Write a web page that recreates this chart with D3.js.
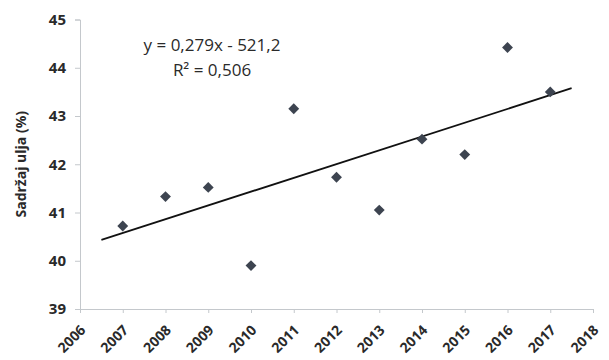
<!DOCTYPE html>
<html>
<head>
<meta charset="utf-8">
<script src="https://cdn.jsdelivr.net/npm/d3@7"></script>
<style>
  body { margin: 0; background: #fff; }
  text { font-family: "Open Sans", "DejaVu Sans", sans-serif; fill: #2a2a2a; }
</style>
</head>
<body>
<div id="chart"></div>
<script>
// data
var years  = [2007, 2008, 2009, 2010, 2011, 2012, 2013, 2014, 2015, 2016, 2017];
var oil    = [40.72, 41.33, 41.52, 39.9, 43.15, 41.73, 41.05, 42.52, 42.2, 44.42, 43.5];
var xTicks = [2006, 2007, 2008, 2009, 2010, 2011, 2012, 2013, 2014, 2015, 2016, 2017, 2018];
var yTicks = [39, 40, 41, 42, 43, 44, 45];
var eqLines = ["y = 0,279x - 521,2", "R\u00B2 = 0,506"];
var yTitle = "Sadržaj ulja (%)";

var width = 609, height = 360;
var margin = {top: 19.5, right: 16, bottom: 51, left: 80};

var svg = d3.select('#chart')
    .append('svg')
    .attr('width', width)
    .attr('height', height);

var x = d3.scaleLinear().domain([2006, 2018]).range([margin.left, width - margin.right]);
var y = d3.scaleLinear().domain([39, 45]).range([height - margin.bottom, margin.top]);

// y axis
var yAxis = svg.append('g')
    .attr('transform', 'translate(' + margin.left + ',0)')
    .call(d3.axisLeft(y).tickValues(yTicks).tickSize(5).tickPadding(9).tickFormat(d3.format('d')));
yAxis.select('.domain').attr('stroke', '#c4c8cc');
yAxis.selectAll('.tick line').attr('stroke', '#c4c8cc');
yAxis.selectAll('.tick text')
    .style('font-size', '15px').style('font-weight', 'bold');

// x axis, labels slanted
var xAxis = svg.append('g')
    .attr('transform', 'translate(0,' + (height - margin.bottom) + ')')
    .call(d3.axisBottom(x).tickValues(xTicks).tickSize(4).tickFormat(d3.format('d')));
xAxis.select('.domain').attr('stroke', '#c4c8cc');
xAxis.selectAll('.tick line').attr('stroke', '#c4c8cc');
xAxis.selectAll('.tick text')
    .style('font-size', '14px').style('font-weight', 'bold')
    .attr('text-anchor', 'end')
    .attr('x', 0).attr('y', 0).attr('dy', null)
    .attr('transform', 'translate(6,22) rotate(-45)');

// y title
svg.append('text')
    .attr('transform', 'translate(26,' + ((margin.top + height - margin.bottom) / 2) + ') rotate(-90)')
    .attr('text-anchor', 'middle')
    .style('font-size', '14px').style('font-weight', 'bold')
    .text(yTitle);

// linear trend (least squares)
var mx = d3.mean(years), my = d3.mean(oil);
var sxy = d3.sum(years, function(d, i){ return (d - mx) * (oil[i] - my); });
var sxx = d3.sum(years, function(d){ return (d - mx) * (d - mx); });
var slope = sxy / sxx, icpt = my - slope * mx;
var trendX = [d3.min(years) - 0.5, d3.max(years) + 0.5];

var line = d3.line()
    .x(function(d){ return x(d); })
    .y(function(d){ return y(icpt + slope * d); });

svg.append('path')
    .attr('d', line(trendX))
    .attr('fill', 'none')
    .attr('stroke', '#111')
    .attr('stroke-width', 1.8);

// points
svg.selectAll('path.pt')
    .data(years)
    .enter()
    .append('path')
    .attr('class', 'pt')
    .attr('d', d3.symbol().type(d3.symbolDiamond2).size(75))
    .attr('transform', function(d, i){ return 'translate(' + x(d) + ',' + y(oil[i]) + ')'; })
    .attr('fill', '#3d4450');

// equation
svg.selectAll('text.eq')
    .data(eqLines)
    .enter()
    .append('text')
    .attr('class', 'eq')
    .attr('x', 212)
    .attr('y', function(d, i){ return 51 + i * 25; })
    .attr('text-anchor', 'middle')
    .style('font-size', '17px')
    .text(function(d){ return d; });
</script>
</body>
</html>
